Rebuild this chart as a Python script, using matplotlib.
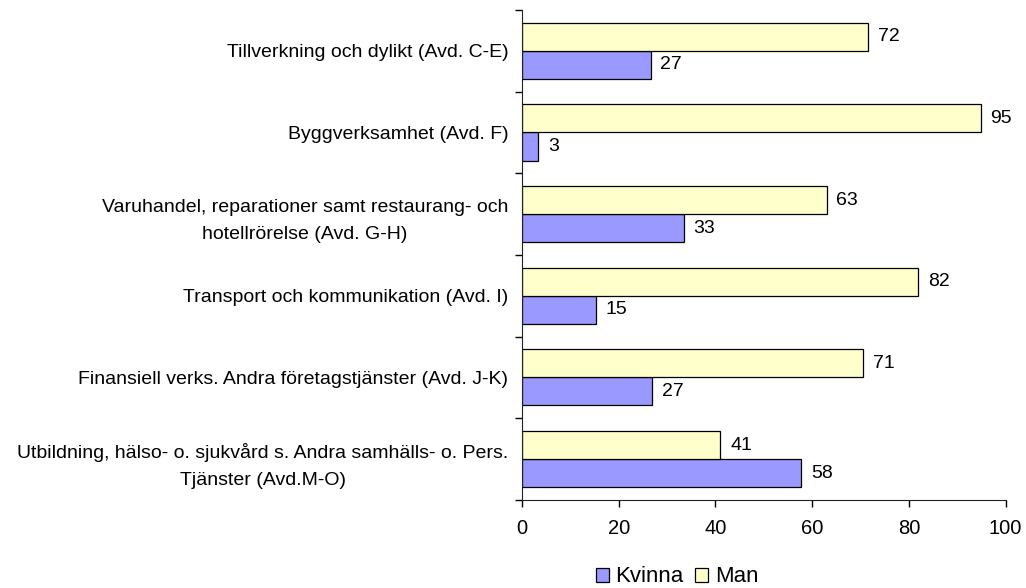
import matplotlib
matplotlib.use("Agg")
import matplotlib.pyplot as plt
import numpy as np

plt.rcParams['font.family'] = ['Liberation Sans', 'DejaVu Sans']

# kategorier nerifrån och upp
categories = [
    "Utbildning, hälso- o. sjukvård s. Andra samhälls- o. Pers.\nTjänster (Avd.M-O)",
    "Finansiell verks. Andra företagstjänster (Avd. J-K)",
    "Transport och kommunikation (Avd. I)",
    "Varuhandel, reparationer samt restaurang- och\nhotellrörelse (Avd. G-H)",
    "Byggverksamhet (Avd. F)",
    "Tillverkning och dylikt (Avd. C-E)",
]
kvinna = [57.7, 26.9, 15.2, 33.4, 3.4, 26.6]
man = [41.0, 70.6, 81.9, 63.0, 94.8, 71.6]
x_ticks = [0, 20, 40, 60, 80, 100]

fig = plt.figure(figsize=(10.26, 5.88), dpi=100)
ax = fig.add_axes([0.5088, 0.1497, 0.9802 - 0.5088, 0.983 - 0.1497])

y = np.arange(len(categories))
h = 0.343
b1 = ax.barh(y - h / 2, kvinna, h, color='#9999FF', edgecolor='black', linewidth=0.9, label='Kvinna')
b2 = ax.barh(y + h / 2, man, h, color='#FFFFCC', edgecolor='black', linewidth=0.9, label='Man')

for bars in (b1, b2):
    ax.bar_label(bars, fmt='%.0f', padding=7, fontsize=14)

ax.set_xlim(0, 100)
ax.set_ylim(-0.5, len(categories) - 0.5)
ax.set_xticks(x_ticks)
ax.set_yticks(y)
ax.set_yticklabels(categories, ha='right', multialignment='center', fontsize=14, linespacing=1.75)
ax.set_yticks(np.arange(-0.5, len(categories)), minor=True)
ax.tick_params(axis='y', which='major', length=0, pad=10)
ax.tick_params(axis='y', which='minor', length=5, width=1, direction='out')
ax.tick_params(axis='x', length=5, width=1, pad=9, labelsize=14.5)

for s in ('top', 'right'):
    ax.spines[s].set_visible(False)
for s in ('left', 'bottom'):
    ax.spines[s].set_color('#222222')

fig.legend(handles=[b1, b2], loc='center', bbox_to_anchor=(677 / 1026, 1 - 577 / 588),
           ncol=2, frameon=False, fontsize=16, handlelength=0.6, handleheight=0.6,
           handletextpad=0.3, columnspacing=0.5, borderpad=0)

fig.savefig('out.png', dpi=100)
